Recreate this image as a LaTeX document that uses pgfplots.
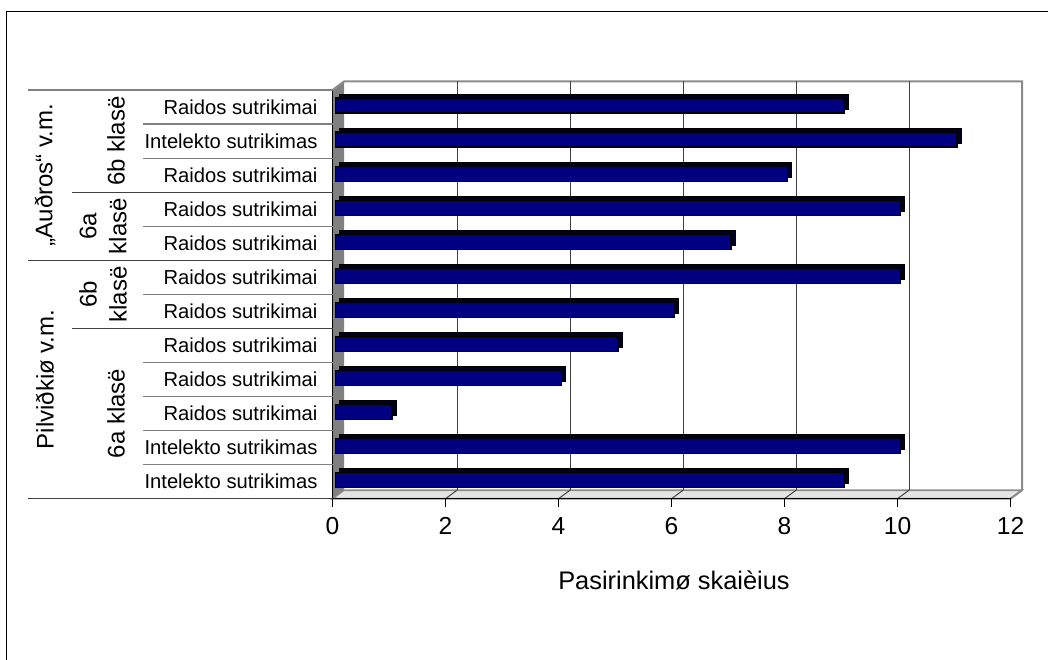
\documentclass[border=0pt]{standalone}
\usepackage{fontspec}
\setmainfont{Liberation Sans}
\usepackage{pgfplots}
\usepackage{pgfplotstable}
\pgfplotsset{compat=1.18}
\definecolor{barnavy}{HTML}{000080}
\definecolor{bardark}{HTML}{000020}
\definecolor{wallgray}{HTML}{808080}
\definecolor{floorgray}{HTML}{E4E4E4}
\definecolor{gridgray}{HTML}{404040}
\definecolor{edgegray}{HTML}{8C8C8C}
\definecolor{sepgray}{HTML}{808080}

\pgfplotstableread{
y v
1 9
2 10
3 1
4 4
5 5
6 6
7 10
8 7
9 10
10 8
11 11
12 9
}\datatable

\begin{document}
\begin{tikzpicture}
\path[use as bounding box] (0,0) rectangle (524pt,329.5pt);
% background: 3D walls, floor, gridlines (decoration)
\begin{scope}[x=0.5pt,y=-0.5pt,yshift=329.5pt]
  \fill[wallgray] (332.5,90) -- (344,81.5) -- (344,490.2) -- (332.5,498.7) -- cycle;
  \filldraw[fill=floorgray, draw=edgegray, line width=0.8pt] (332.5,498.7) -- (344,490.2) -- (1022,490.2) -- (1010.5,498.7) -- cycle;
  \draw[edgegray, line width=1pt] (332.5,90) -- (344,81.5) -- (1022,81.5) -- (1022,490.2) -- (1010.5,498.7);
  \foreach \i in {1,...,5} {
    \draw[gridgray, line width=0.5pt] ({344+\i*113},81.5) -- ({344+\i*113},490.2);
    \draw[gridgray, line width=0.5pt] ({332.5+\i*113},498.7) -- ({344+\i*113},490.2);
  }
  % outer chart frame
  \draw[black, line width=0.8pt] (6.5,665) -- (6.5,11.7) -- (1055,11.7);
\end{scope}

\begin{axis}[
  at={(166.25pt,80.15pt)}, anchor=south west,
  scale only axis, width=339pt, height=204.35pt,
  xmin=0, xmax=12, ymin=0.5, ymax=12.5,
  axis x line*=bottom, axis y line*=left,
  x axis line style={black, line width=0.6pt, -},
  y axis line style={black, line width=0.6pt, -},
  xtick={0,2,...,12}, ytick={1,...,12},
  yticklabels={Intelekto sutrikimas, Intelekto sutrikimas, Raidos sutrikimai, Raidos sutrikimai, Raidos sutrikimai, Raidos sutrikimai, Raidos sutrikimai, Raidos sutrikimai, Raidos sutrikimai, Raidos sutrikimai, Intelekto sutrikimas, Raidos sutrikimai},
  tick align=outside, major tick length=4pt,
  xtick style={black, line width=0.6pt}, ytick style={draw=none},
  xticklabel style={font=\fontsize{12.3}{14}\selectfont, yshift=-2pt},
  yticklabel style={font=\fontsize{10.1}{12}\selectfont, anchor=east},
  /pgf/number format/assume math mode=true,
  xbar, bar width=7.5pt, clip=false,
]
\addplot[fill=bardark, draw=black, line width=0.5pt, xshift=3.5pt, bar shift=2.75pt] table[x=v,y=y]{\datatable};
\addplot[fill=barnavy, draw=black, line width=0.6pt, xshift=1.5pt, bar shift=0.75pt] table[x=v,y=y]{\datatable};
\end{axis}

% category group structure
\begin{scope}[x=0.5pt,y=-0.5pt,yshift=329.5pt, font=\fontsize{12}{15}\selectfont]
  \foreach \k in {1,2,4,6,8,9,10,11} {
    \draw[sepgray, line width=0.6pt] (143,{90+34.06*\k}) -- (332.5,{90+34.06*\k});
  }
  \draw[gridgray, line width=0.6pt] (72,192.2) -- (332.5,192.2);
  \draw[gridgray, line width=0.6pt] (72,328.4) -- (332.5,328.4);
  \draw[gridgray, line width=0.6pt] (28,260.3) -- (332.5,260.3);
  \draw[sepgray, line width=0.6pt] (28,90) -- (332.5,90);
  \draw[gridgray, line width=0.6pt] (28,498.7) -- (332.5,498.7);
  \node[rotate=90] at (116,141.1) {6b klasë};
  \node[rotate=90, align=center] at (103,226.2) {6a\\klasë};
  \node[rotate=90, align=center] at (103,294.4) {6b\\klasë};
  \node[rotate=90] at (116,413.5) {6a klasë};
  \node[rotate=90] at (45,175.2) {„Auðros“ v.m.};
  \node[rotate=90] at (45,379.5) {Pilviðkiø v.m.};
  \node[font=\fontsize{12.7}{15}\selectfont] at (674,580) {Pasirinkimø skaièius};
\end{scope}
\end{tikzpicture}
\end{document}
